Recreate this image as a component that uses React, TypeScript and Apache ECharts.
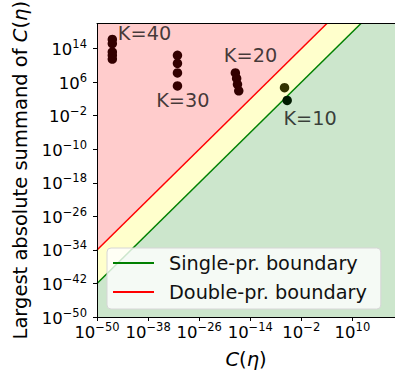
import React, { useEffect, useRef } from "react";
import * as echarts from "echarts";

// All values are log10 exponents (axes show 10^n)
const X_MIN = -50;
const X_MAX = 20;
const Y_MIN = -50;
const Y_MAX = 20;
const xTickExps = [-50, -38, -26, -14, -2, 10];
const yTickExps = [-50, -42, -34, -26, -18, -10, -2, 6, 14];

const k40X = [-46.4, -46.4, -46.4, -46.4, -46.4];
const k40Y = [16.2, 15.2, 13.2, 12.4, 11.5];
const k30X = [-31.1, -31.1, -31.1, -31.1];
const k30Y = [12.4, 10.5, 8.2, 5.1];
const k20X = [-17.5, -17.2, -17.0, -16.7];
const k20Y = [8.2, 6.9, 5.5, 3.95];
const k10X = [-5.95, -5.33];
const k10Y = [4.7, 1.65];

const singleBoundaryX = [-50, 12];
const singleBoundaryY = [-42, 20];
const doubleBoundaryX = [-50, 4];
const doubleBoundaryY = [-34, 20];

const annText = ["K=40", "K=30", "K=20", "K=10"];
const annX = [-45.1, -36.1, -20.2, -6.2];
const annY = [17.5, 1.6, 12.4, -2.6];

const FONT = "DejaVu Sans";

const sup = (v: number) => {
  const n = Math.round(v);
  return n < 0 ? "\u2212" + Math.abs(n) : String(n);
};

export default function App() {
  const ref = useRef<HTMLDivElement>(null);
  useEffect(() => {
    if (!ref.current) return;
    const chart = echarts.init(ref.current, undefined, { renderer: "svg" });

    const points: number[][] = [];
    [[k40X, k40Y], [k30X, k30Y], [k20X, k20Y], [k10X, k10Y]].forEach(([xs, ys]) => {
      xs.forEach((x, i) => points.push([x, ys[i]]));
    });

    const lineAt = (bx: number[], by: number[], x: number) =>
      by[0] + ((by[1] - by[0]) * (x - bx[0])) / (bx[1] - bx[0]);

    const pointColor = (p: number[]) => {
      const yd = lineAt(doubleBoundaryX, doubleBoundaryY, p[0]);
      const ys = lineAt(singleBoundaryX, singleBoundaryY, p[0]);
      if (p[1] > yd) return "#330000";
      if (p[1] > ys) return "#333300";
      return "#001a00";
    };

    const regions = [
      {
        color: "rgba(0,128,0,0.2)",
        pts: [
          [X_MIN, Y_MIN],
          [X_MAX, Y_MIN],
          [X_MAX, Y_MAX],
          [singleBoundaryX[1], singleBoundaryY[1]],
          [singleBoundaryX[0], singleBoundaryY[0]],
        ],
      },
      {
        color: "rgba(255,255,0,0.2)",
        pts: [
          [singleBoundaryX[0], singleBoundaryY[0]],
          [singleBoundaryX[1], singleBoundaryY[1]],
          [doubleBoundaryX[1], doubleBoundaryY[1]],
          [doubleBoundaryX[0], doubleBoundaryY[0]],
        ],
      },
      {
        color: "rgba(255,0,0,0.2)",
        pts: [
          [doubleBoundaryX[0], doubleBoundaryY[0]],
          [doubleBoundaryX[1], doubleBoundaryY[1]],
          [X_MIN, Y_MAX],
        ],
      },
    ];

    const tickLabel = {
      formatter: (v: number) => `{b|10}{s|${sup(v)}}`,
      color: "#000",
      rich: {
        b: { fontSize: 16.5, fontFamily: FONT, color: "#000", verticalAlign: "bottom", lineHeight: 19 },
        s: {
          fontSize: 11.5,
          fontFamily: FONT,
          color: "#000",
          verticalAlign: "bottom",
          lineHeight: 13,
          padding: [0, 0, 8, 0],
        },
      },
    };

    const nameRich = {
      i: { fontSize: 19.5, fontFamily: FONT, fontStyle: "italic", color: "#000" },
      n: { fontSize: 19.5, fontFamily: FONT, color: "#000" },
    };

    const spine = { show: true, onZero: false, lineStyle: { color: "#000", width: 1 } };

    chart.setOption({
      animation: false,
      backgroundColor: "#fff",
      grid: { left: 97, top: 17, width: 304, height: 304, containLabel: false },
      xAxis: [
        {
          type: "value",
          min: X_MIN,
          max: X_MAX,
          interval: 12,
          position: "bottom",
          z: 10,
          axisLine: spine,
          axisTick: { show: true, length: 4, customValues: xTickExps, lineStyle: { color: "#000" } },
          axisLabel: { ...tickLabel, margin: 5, customValues: xTickExps },
          splitLine: { show: false },
          name: "{i|C}{n|(}{i|η}{n|)}",
          nameLocation: "middle",
          nameGap: 32,
          nameTextStyle: { rich: nameRich },
        },
        {
          type: "value",
          min: X_MIN,
          max: X_MAX,
          position: "top",
          z: 10,
          axisLine: spine,
          axisTick: { show: false },
          axisLabel: { show: false },
          splitLine: { show: false },
        },
      ],
      yAxis: [
        {
          type: "value",
          min: Y_MIN,
          max: Y_MAX,
          interval: 8,
          position: "left",
          z: 10,
          axisLine: spine,
          axisTick: { show: true, length: 4, customValues: yTickExps, lineStyle: { color: "#000" } },
          axisLabel: { ...tickLabel, margin: 10, customValues: yTickExps },
          splitLine: { show: false },
          name: "{n|Largest absolute summand of }{i|C}{n|(}{i|η}{n|)}",
          nameLocation: "middle",
          nameRotate: 90,
          nameGap: 60,
          nameTextStyle: { rich: nameRich },
        },
        {
          type: "value",
          min: Y_MIN,
          max: Y_MAX,
          position: "right",
          z: 10,
          axisLine: spine,
          axisTick: { show: false },
          axisLabel: { show: false },
          splitLine: { show: false },
        },
      ],
      legend: {
        orient: "vertical",
        left: 107,
        top: 248,
        data: [
          { name: "Single-pr. boundary", icon: "rect" },
          { name: "Double-pr. boundary", icon: "rect" },
        ],
        itemWidth: 41,
        itemHeight: 2,
        itemGap: 7,
        padding: [4, 14, 6, 6],
        backgroundColor: "rgba(255,255,255,0.8)",
        borderColor: "#d6d6d6",
        borderWidth: 1,
        borderRadius: 4,
        z: 20,
        textStyle: { fontSize: 19.3, fontFamily: FONT, color: "#111", padding: [0, 0, 0, 10], lineHeight: 22 },
      },
      series: [
        {
          type: "custom",
          silent: true,
          z: 1,
          data: regions.map((_, i) => [i]),
          renderItem: (params: any, api: any) => {
            const r = regions[params.dataIndex];
            return {
              type: "polygon",
              shape: { points: r.pts.map((p) => api.coord(p)) },
              style: { fill: r.color },
            };
          },
        },
        {
          name: "Single-pr. boundary",
          type: "line",
          z: 3,
          color: "#008000",
          showSymbol: false,
          symbol: "none",
          lineStyle: { color: "#008000", width: 1.5 },
          data: singleBoundaryX.map((x, i) => [x, singleBoundaryY[i]]),
        },
        {
          name: "Double-pr. boundary",
          type: "line",
          z: 3,
          color: "#ff0000",
          showSymbol: false,
          symbol: "none",
          lineStyle: { color: "#ff0000", width: 1.5 },
          data: doubleBoundaryX.map((x, i) => [x, doubleBoundaryY[i]]),
        },
        {
          type: "scatter",
          z: 4,
          symbolSize: 9.5,
          data: points,
          itemStyle: { color: (p: any) => pointColor(p.data), opacity: 1 },
        },
        {
          type: "scatter",
          z: 5,
          silent: true,
          symbolSize: 0,
          data: annX.map((x, i) => [x, annY[i]]),
          label: {
            show: true,
            position: [0, 0],
            align: "left",
            verticalAlign: "middle",
            fontSize: 19.3,
            fontFamily: FONT,
            color: "#111",
            formatter: (p: any) => annText[p.dataIndex],
          },
        },
      ],
    });
    return () => chart.dispose();
  }, []);
  return (
    <div
      ref={ref}
      style={{ position: "fixed", left: 0, top: 0, width: 395, height: 374, background: "#fff" }}
    />
  );
}
